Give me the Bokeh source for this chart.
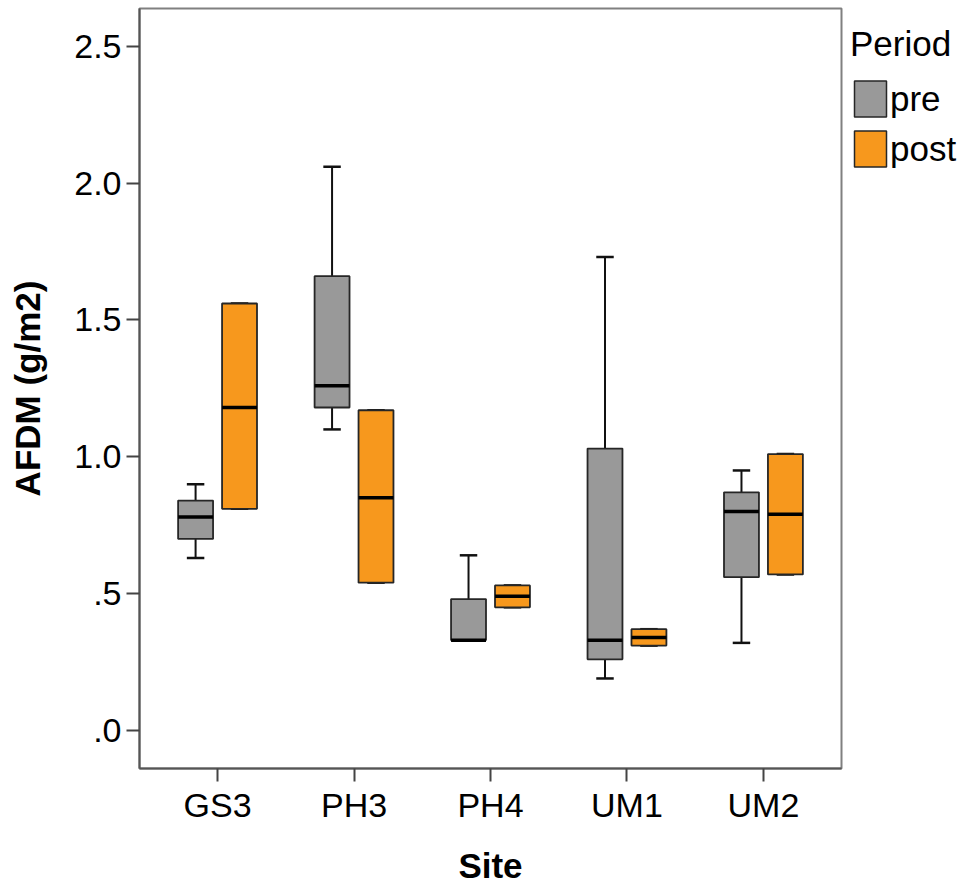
from bokeh.plotting import figure
from bokeh.layouts import row
from bokeh.models import (ColumnDataSource, FactorRange, Range1d, FixedTicker,
                          Legend, LegendItem)
from bokeh.transform import dodge
from bokeh.embed import file_html
from bokeh.resources import INLINE

# ---- data ----
sites = ["GS3", "PH3", "PH4", "UM1", "UM2"]
periods = ["pre", "post"]

pre_min = [0.63, 1.10, 0.33, 0.19, 0.32]
pre_q1 = [0.70, 1.18, 0.33, 0.26, 0.56]
pre_med = [0.78, 1.26, 0.33, 0.33, 0.80]
pre_q3 = [0.84, 1.66, 0.48, 1.03, 0.87]
pre_max = [0.90, 2.06, 0.64, 1.73, 0.95]

post_min = [0.81, 0.54, 0.45, 0.31, 0.57]
post_q1 = [0.81, 0.54, 0.45, 0.31, 0.57]
post_med = [1.18, 0.85, 0.49, 0.34, 0.79]
post_q3 = [1.56, 1.17, 0.53, 0.37, 1.01]
post_max = [1.56, 1.17, 0.53, 0.37, 1.01]

y_ticks = [0.0, 0.5, 1.0, 1.5, 2.0, 2.5]
y_tick_labels = [".0", ".5", "1.0", "1.5", "2.0", "2.5"]

FONT = "Liberation Sans"

p = figure(
    x_range=FactorRange(*sites, range_padding=0.072, range_padding_units="absolute"),
    y_range=Range1d(-0.139, 2.638),
    width=843, height=888,
    min_border_left=139, min_border_right=2, min_border_top=8, min_border_bottom=120,
    output_backend="svg", toolbar_location=None,
)
p.xgrid.visible = False
p.ygrid.visible = False
p.outline_line_color = "#808080"
p.outline_line_width = 2
p.background_fill_color = "white"
p.border_fill_color = "white"

# axes
for ax in (p.xaxis[0], p.yaxis[0]):
    ax.major_tick_in = 0
    ax.major_tick_out = 13
    ax.minor_tick_line_color = None
    ax.axis_line_color = "#555555"
    ax.axis_line_width = 2
    ax.major_tick_line_color = "#444444"
    ax.major_tick_line_width = 2
    ax.major_label_text_font = FONT
    ax.major_label_text_font_size = "34px"
    ax.major_label_text_color = "black"
    ax.axis_label_text_font = FONT
    ax.axis_label_text_font_size = "35px"
    ax.axis_label_text_font_style = "bold"
    ax.axis_label_text_color = "black"
    ax.major_label_text_line_height = 1.0
    ax.axis_label_text_line_height = 1.0

p.yaxis.ticker = FixedTicker(ticks=y_ticks)
p.yaxis.major_label_overrides = {t: l for t, l in zip(y_ticks, y_tick_labels)}
p.yaxis.major_label_standoff = 5
p.yaxis.axis_label = "AFDM (g/m2)"
p.yaxis.axis_label_standoff = 24

p.xaxis.major_label_standoff = 4
p.xaxis.axis_label = "Site"
p.xaxis.axis_label_standoff = 19

src = ColumnDataSource(dict(
    site=sites,
    pre_min=pre_min, pre_q1=pre_q1, pre_med=pre_med, pre_q3=pre_q3, pre_max=pre_max,
    post_min=post_min, post_q1=post_q1, post_med=post_med, post_q3=post_q3, post_max=post_max,
))

BOX_W = 0.256
OFF = 0.161
CAP = BOX_W / 2
colors = {"pre": "#999999", "post": "#F7981D"}
offsets = {"pre": -OFF, "post": OFF}
BOX_LINE = "#262626"

for per in periods:
    off = offsets[per]
    xc = dodge("site", off, range=p.x_range)
    # whiskers
    p.segment(x0=xc, y0=f"{per}_q3", x1=xc, y1=f"{per}_max", source=src,
              line_color="#111111", line_width=2)
    p.segment(x0=xc, y0=f"{per}_q1", x1=xc, y1=f"{per}_min", source=src,
              line_color="#111111", line_width=2)
    # caps
    xl = dodge("site", off - CAP / 2, range=p.x_range)
    xr = dodge("site", off + CAP / 2, range=p.x_range)
    p.segment(x0=xl, y0=f"{per}_max", x1=xr, y1=f"{per}_max", source=src,
              line_color="#111111", line_width=2.5)
    p.segment(x0=xl, y0=f"{per}_min", x1=xr, y1=f"{per}_min", source=src,
              line_color="#111111", line_width=2.5)
    # box
    p.vbar(x=xc, width=BOX_W, bottom=f"{per}_q1", top=f"{per}_q3", source=src,
           fill_color=colors[per], line_color=BOX_LINE, line_width=1.8)
    # median
    ml = dodge("site", off - BOX_W / 2, range=p.x_range)
    mr = dodge("site", off + BOX_W / 2, range=p.x_range)
    p.segment(x0=ml, y0=f"{per}_med", x1=mr, y1=f"{per}_med", source=src,
              line_color="black", line_width=3.5)

# ---- legend panel (separate figure to the right of the frame) ----
leg = figure(width=127, height=888, x_range=Range1d(0, 1), y_range=Range1d(0, 1),
             min_border_left=0, min_border_right=0, min_border_top=8, min_border_bottom=120,
             x_axis_location=None, y_axis_location=None,
             output_backend="svg", toolbar_location=None)
leg.grid.visible = False
leg.outline_line_color = None
leg.border_fill_color = "white"

# hidden proxy renderers that only supply the legend swatch styles
proxies = {}
for per in periods:
    proxies[per] = leg.vbar(x=[0], width=0, top=[0], fill_color=colors[per],
                            line_color=BOX_LINE, line_width=1.5, visible=False)

legend = Legend(
    items=[LegendItem(label=per, renderers=[proxies[per]]) for per in periods],
    title="Period",
    location=(7, 597),
    orientation="vertical",
    margin=0, padding=0, spacing=5,
    glyph_width=40, glyph_height=45, label_standoff=0,
    label_text_font=FONT, label_text_font_size="35px", label_text_color="black",
    title_text_font=FONT, title_text_font_size="35px", title_text_color="black",
    title_text_font_style="normal", title_standoff=12,
    border_line_color=None, background_fill_alpha=0,
    click_policy="none",
)
leg.add_layout(legend)

open("out.html", "w").write(file_html(row(p, leg), INLINE))
